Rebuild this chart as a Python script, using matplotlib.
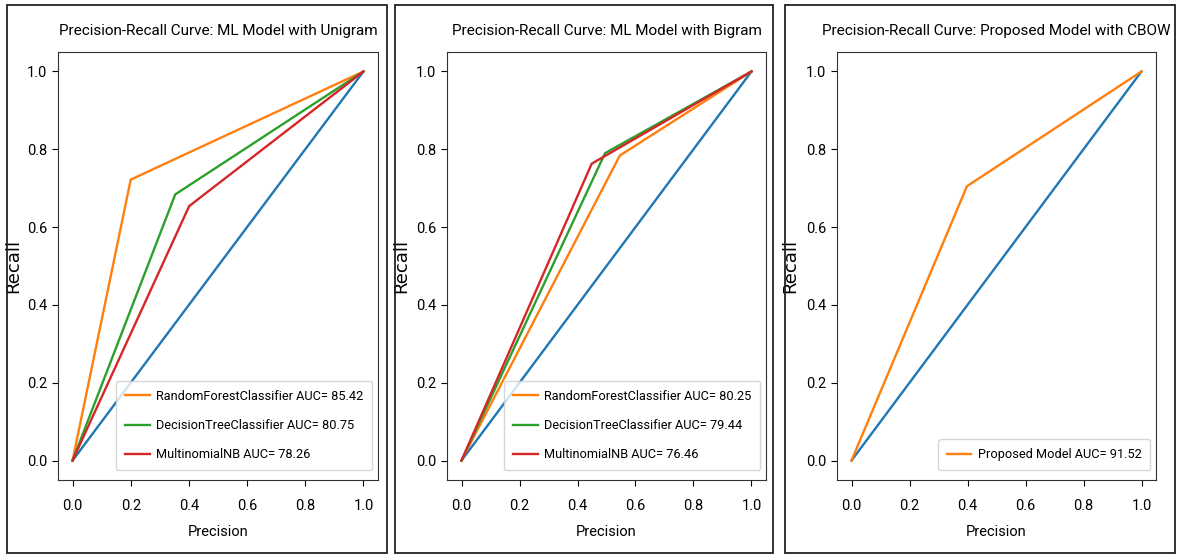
import matplotlib
matplotlib.use("Agg")
import matplotlib.pyplot as plt
from matplotlib import font_manager
from matplotlib.patches import Rectangle

# ---------------- data ----------------
titles = ["Precision-Recall Curve: ML Model with Unigram",
          "Precision-Recall Curve: ML Model with Bigram",
          "Precision-Recall Curve: Proposed Model with CBOW"]

baseline_x = [0.0, 1.0]
baseline_y = [0.0, 1.0]

# panel 1 (Unigram)
uni_names = ["RandomForestClassifier", "DecisionTreeClassifier", "MultinomialNB"]
uni_auc = [85.42, 80.75, 78.26]
uni_x = [[0.0, 0.20, 1.0], [0.0, 0.353, 1.0], [0.0, 0.401, 1.0]]
uni_y = [[0.0, 0.722, 1.0], [0.0, 0.684, 1.0], [0.0, 0.654, 1.0]]

# panel 2 (Bigram)
bi_names = ["RandomForestClassifier", "DecisionTreeClassifier", "MultinomialNB"]
bi_auc = [80.25, 79.44, 76.46]
bi_x = [[0.0, 0.546, 1.0], [0.0, 0.495, 1.0], [0.0, 0.449, 1.0]]
bi_y = [[0.0, 0.784, 1.0], [0.0, 0.790, 1.0], [0.0, 0.763, 1.0]]

# panel 3 (CBOW)
cb_names = ["Proposed Model"]
cb_auc = [91.52]
cb_x = [[0.0, 0.398, 1.0]]
cb_y = [[0.0, 0.705, 1.0]]

ticks = [0.0, 0.2, 0.4, 0.6, 0.8, 1.0]
tick_labels = ["0.0", "0.2", "0.4", "0.6", "0.8", "1.0"]

# ---------------- fonts ----------------
def pick(fams):
    for f in fams:
        try:
            font_manager.findfont(f, fallback_to_default=False)
            return f
        except Exception:
            pass
    return "DejaVu Sans"

narrow = pick(["Liberation Sans Narrow", "Roboto", "Liberation Sans", "DejaVu Sans"])
plt.rcParams["font.family"] = [narrow, "DejaVu Sans"]

W, H = 1177, 554
fig = plt.figure(figsize=(W / 100, H / 100), dpi=100)

colors = ["#ff7f0e", "#2ca02c", "#d62728"]

panels = [
    dict(border=(7, 387), ax=(58, 378), names=uni_names, auc=uni_auc, xs=uni_x, ys=uni_y, ylab_x=22),
    dict(border=(395, 773), ax=(447, 766), names=bi_names, auc=bi_auc, xs=bi_x, ys=bi_y, ylab_x=410),
    dict(border=(785, 1175), ax=(837, 1156), names=cb_names, auc=cb_auc, xs=cb_x, ys=cb_y, ylab_x=799),
]

ax_top, ax_bot = 52, 480
for i, p in enumerate(panels):
    bl, br = p["border"]
    fig.patches.append(Rectangle((bl / W, 1 - 553 / H), (br - bl) / W, (553 - 5) / H,
                                 transform=fig.transFigure, fill=False,
                                 edgecolor="#222222", linewidth=1.3))
    l, r = p["ax"]
    ax = fig.add_axes([l / W, 1 - ax_bot / H, (r - l) / W, (ax_bot - ax_top) / H])
    ax.plot(baseline_x, baseline_y, color="#1f77b4", linewidth=1.7)
    for j, (nm, a, xs, ys) in enumerate(zip(p["names"], p["auc"], p["xs"], p["ys"])):
        ax.plot(xs, ys, color=colors[j], linewidth=1.7, label=f"{nm} AUC= {a}")
    ax.set_xlim(-0.05, 1.05)
    ax.set_ylim(-0.05, 1.05)
    ax.set_xticks(ticks)
    ax.set_xticklabels(tick_labels)
    ax.set_yticks(ticks)
    ax.set_yticklabels(tick_labels)
    ax.tick_params(labelsize=10.5, length=4.5)
    ax.tick_params(axis="x", pad=9)
    ax.set_title(titles[i], fontsize=11.0, pad=12)
    ax.set_xlabel("Precision", fontsize=10.5, labelpad=9)
    ax.set_ylabel("Recall", fontsize=13, family="DejaVu Sans")
    ax.yaxis.set_label_coords((p["ylab_x"] - l) / (r - l), 0.5)
    for s in ax.spines.values():
        s.set_color("#333333")
    ax.legend(loc="lower right", bbox_to_anchor=(0.982, 0.023), borderaxespad=0,
              fontsize=9.2, handlelength=1.9, labelspacing=1.27, borderpad=0.7,
              handletextpad=0.5)

fig.savefig("out.png", dpi=100)
